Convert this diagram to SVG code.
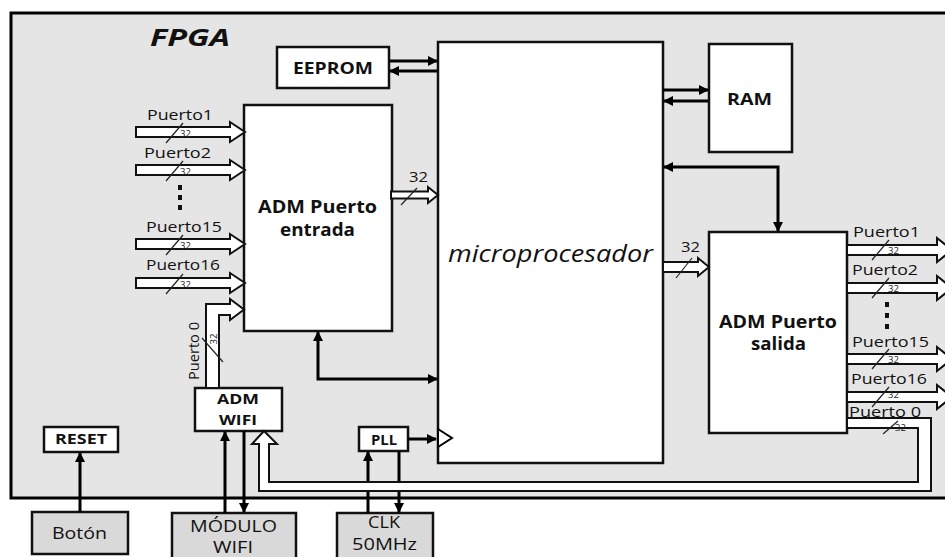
<svg xmlns="http://www.w3.org/2000/svg" width="945" height="557" viewBox="0 0 945 557">
<defs>
<style>
.box{fill:#fff;stroke:#111;stroke-width:2.5}
.ext{fill:#d9d9d9;stroke:#111;stroke-width:2.5}
.ln{fill:none;stroke:#000;stroke-width:3}
.bus{fill:#fff;stroke:#111;stroke-width:2}
.sl{stroke:#222;stroke-width:1.2}
.b{font-family:"Open Sans","DejaVu Sans",sans-serif;font-weight:700;fill:#111}
.n{font-family:"Open Sans","DejaVu Sans",sans-serif;fill:#111}
.s{font-family:"Open Sans","DejaVu Sans",sans-serif;font-size:9.5px;fill:#222}
.p{font-family:"Open Sans","DejaVu Sans",sans-serif;font-size:15px;fill:#111}
</style>
<marker id="ah" viewBox="0 0 10 10" refX="9" refY="5" markerWidth="10" markerHeight="10" markerUnits="userSpaceOnUse" orient="auto-start-reverse">
<path d="M0,0 L10,5 L0,10 z" fill="#000"/>
</marker>
</defs>
<rect width="945" height="557" fill="#fff"/>
<g id="fpga">
<rect x="11" y="13" width="960" height="485" fill="#e5e5e5" stroke="#000" stroke-width="3"/>
<text x="150" y="46" class="b" font-size="24" font-style="italic" textLength="80" lengthAdjust="spacingAndGlyphs">FPGA</text>
</g>
<g id="eeprom">
<rect class="box" x="277" y="47" width="112" height="41"/>
<text x="293" y="74" class="b" font-size="16" textLength="80" lengthAdjust="spacingAndGlyphs">EEPROM</text>
</g>
<g id="ram">
<rect class="box" x="709" y="44" width="83" height="108"/>
<text x="727" y="105" class="b" font-size="16" textLength="45" lengthAdjust="spacingAndGlyphs">RAM</text>
</g>
<g id="micro">
<rect class="box" x="438" y="42" width="225" height="421"/>
<text x="448" y="262" class="n" font-size="23" font-style="italic" textLength="205" lengthAdjust="spacingAndGlyphs">microprocesador</text>
</g>
<g id="adm-entrada">
<rect class="box" x="244" y="105" width="148" height="226"/>
<text x="258" y="213" class="b" font-size="17" textLength="119" lengthAdjust="spacingAndGlyphs">ADM Puerto</text>
<text x="280" y="236" class="b" font-size="17" textLength="75" lengthAdjust="spacingAndGlyphs">entrada</text>
</g>
<g id="adm-salida">
<rect class="box" x="709" y="232" width="138" height="201"/>
<text x="719" y="328" class="b" font-size="17" textLength="118" lengthAdjust="spacingAndGlyphs">ADM Puerto</text>
<text x="751" y="350" class="b" font-size="17" textLength="55" lengthAdjust="spacingAndGlyphs">salida</text>
</g>
<g id="adm-wifi">
<rect class="box" x="195" y="388" width="87" height="43"/>
<text x="217" y="404" class="b" font-size="15" textLength="42" lengthAdjust="spacingAndGlyphs">ADM</text>
<text x="219" y="425" class="b" font-size="15" textLength="38" lengthAdjust="spacingAndGlyphs">WIFI</text>
</g>
<g id="pll">
<rect class="box" x="359" y="427" width="49" height="24"/>
<text x="371" y="445" class="b" font-size="14" textLength="26" lengthAdjust="spacingAndGlyphs">PLL</text>
</g>
<g id="reset">
<rect class="box" x="44" y="427" width="74" height="25"/>
<text x="55" y="444" class="b" font-size="14" textLength="52" lengthAdjust="spacingAndGlyphs">RESET</text>
</g>
<g id="boton">
<rect class="ext" x="32" y="512" width="96" height="42"/>
<text x="52" y="539" class="n" font-size="17" textLength="55" lengthAdjust="spacingAndGlyphs">Botón</text>
</g>
<g id="modulo-wifi">
<rect class="ext" x="172" y="513" width="124" height="60"/>
<text x="190" y="532" class="n" font-size="17" textLength="87" lengthAdjust="spacingAndGlyphs">MÓDULO</text>
<text x="213" y="553" class="n" font-size="17" textLength="40" lengthAdjust="spacingAndGlyphs">WIFI</text>
</g>
<g id="clk">
<rect class="ext" x="337" y="513" width="96" height="60"/>
<text x="368" y="528" class="n" font-size="17" textLength="32" lengthAdjust="spacingAndGlyphs">CLK</text>
<text x="352" y="550" class="n" font-size="17" textLength="65" lengthAdjust="spacingAndGlyphs">50MHz</text>
</g>
<g id="connectors">
<path class="ln" d="M389,61 H437" marker-end="url(#ah)"/>
<path class="ln" d="M437,71 H390" marker-end="url(#ah)"/>
<path class="ln" d="M663,90 H708" marker-end="url(#ah)"/>
<path class="ln" d="M708,101 H664" marker-end="url(#ah)"/>
<path class="ln" d="M778,231 V167 H664" marker-start="url(#ah)" marker-end="url(#ah)"/>
<path class="ln" d="M318,332 V379 H437" marker-start="url(#ah)" marker-end="url(#ah)"/>
<path class="ln" d="M408,439 H436" marker-end="url(#ah)"/>
<polygon points="438,429 452,438 438,447" fill="#fff" stroke="#000" stroke-width="2"/>
<path class="ln" d="M368,513 V452" marker-end="url(#ah)"/>
<path class="ln" d="M399,451 V512" marker-end="url(#ah)"/>
<path class="ln" d="M225,513 V432" marker-end="url(#ah)"/>
<path class="ln" d="M244,431 V512" marker-end="url(#ah)"/>
<path class="ln" d="M80,512 V453" marker-end="url(#ah)"/>
<polygon class="bus" points="136,127 230,127 230,122 245,132 230,142 230,137 136,137"/>
<polygon class="bus" points="136,165 230,165 230,160 245,170 230,180 230,175 136,175"/>
<polygon class="bus" points="136,239 230,239 230,234 245,244 230,254 230,249 136,249"/>
<polygon class="bus" points="136,278 230,278 230,273 245,283 230,293 230,288 136,288"/>
<polygon class="bus" points="206,388 206,304 230,304 230,299 244,309.5 230,320 230,315 219,315 219,388"/>
<polygon class="bus" points="391,191.5 428,191.5 428,187 438,195 428,203 428,198.5 391,198.5"/>
<polygon class="bus" points="663,262 698,262 698,258 709,267 698,276 698,272 663,272"/>
<polygon class="bus" points="847,245 937,245 937,238 952,250 937,262 937,255 847,255"/>
<polygon class="bus" points="847,283 937,283 937,276 952,288 937,300 937,293 847,293"/>
<polygon class="bus" points="847,354 937,354 937,347 952,359 937,371 937,364 847,364"/>
<polygon class="bus" points="847,392 937,392 937,385 952,397 937,409 937,402 847,402"/>
<polygon class="bus" points="847,418 931,418 931,491 259,491 259,444 252,444 264,431 277,444 269,444 269,482 918,482 918,428 847,428"/>
</g>
<g id="labels">
<text x="147" y="120" class="p" textLength="66" lengthAdjust="spacingAndGlyphs">Puerto1</text>
<text x="144" y="158" class="p" textLength="67" lengthAdjust="spacingAndGlyphs">Puerto2</text>
<text x="146" y="232" class="p" textLength="76" lengthAdjust="spacingAndGlyphs">Puerto15</text>
<text x="146" y="270" class="p" textLength="74" lengthAdjust="spacingAndGlyphs">Puerto16</text>
<rect x="178" y="185" width="4" height="5" fill="#111"/>
<rect x="178" y="195" width="4" height="5" fill="#111"/>
<rect x="178" y="205" width="4" height="5" fill="#111"/>
<line class="sl" x1="166" y1="143" x2="183" y2="123"/><text x="180" y="137" class="s">32</text>
<line class="sl" x1="166" y1="181" x2="183" y2="161"/><text x="180" y="175" class="s">32</text>
<line class="sl" x1="166" y1="255" x2="183" y2="235"/><text x="180" y="249" class="s">32</text>
<line class="sl" x1="166" y1="294" x2="183" y2="274"/><text x="180" y="288" class="s">32</text>
<text transform="translate(199,351) rotate(-90)" class="p" text-anchor="middle" textLength="58" lengthAdjust="spacingAndGlyphs">Puerto 0</text>
<line class="sl" x1="202" y1="338" x2="223" y2="362"/>
<text transform="translate(217,339) rotate(-90)" class="s" text-anchor="middle">32</text>
<text x="409" y="182" class="n" font-size="15" textLength="19" lengthAdjust="spacingAndGlyphs">32</text>
<line class="sl" x1="401" y1="205" x2="417" y2="188"/>
<text x="681" y="252" class="n" font-size="15" textLength="19" lengthAdjust="spacingAndGlyphs">32</text>
<line class="sl" x1="676" y1="278" x2="692" y2="258"/>
<text x="853" y="237" class="p" textLength="67" lengthAdjust="spacingAndGlyphs">Puerto1</text>
<text x="852" y="275" class="p" textLength="66" lengthAdjust="spacingAndGlyphs">Puerto2</text>
<text x="852" y="347" class="p" textLength="77" lengthAdjust="spacingAndGlyphs">Puerto15</text>
<text x="851" y="384" class="p" textLength="76" lengthAdjust="spacingAndGlyphs">Puerto16</text>
<text x="849" y="417" class="p" font-size="13.5" textLength="72" lengthAdjust="spacingAndGlyphs">Puerto 0</text>
<rect x="885" y="302" width="4" height="5" fill="#111"/>
<rect x="885" y="313" width="4" height="5" fill="#111"/>
<rect x="885" y="324" width="4" height="5" fill="#111"/>
<line class="sl" x1="872" y1="260" x2="889" y2="240"/><text x="888" y="254" class="s">32</text>
<line class="sl" x1="872" y1="298" x2="889" y2="278"/><text x="888" y="292" class="s">32</text>
<line class="sl" x1="872" y1="369" x2="889" y2="349"/><text x="888" y="363" class="s">32</text>
<line class="sl" x1="872" y1="407" x2="889" y2="387"/><text x="888" y="397.5" class="s" font-size="8.5">32</text>
<line class="sl" x1="883" y1="434" x2="898" y2="421"/><text x="895" y="430.5" class="s" font-size="8.5">32</text>
</g>
</svg>
